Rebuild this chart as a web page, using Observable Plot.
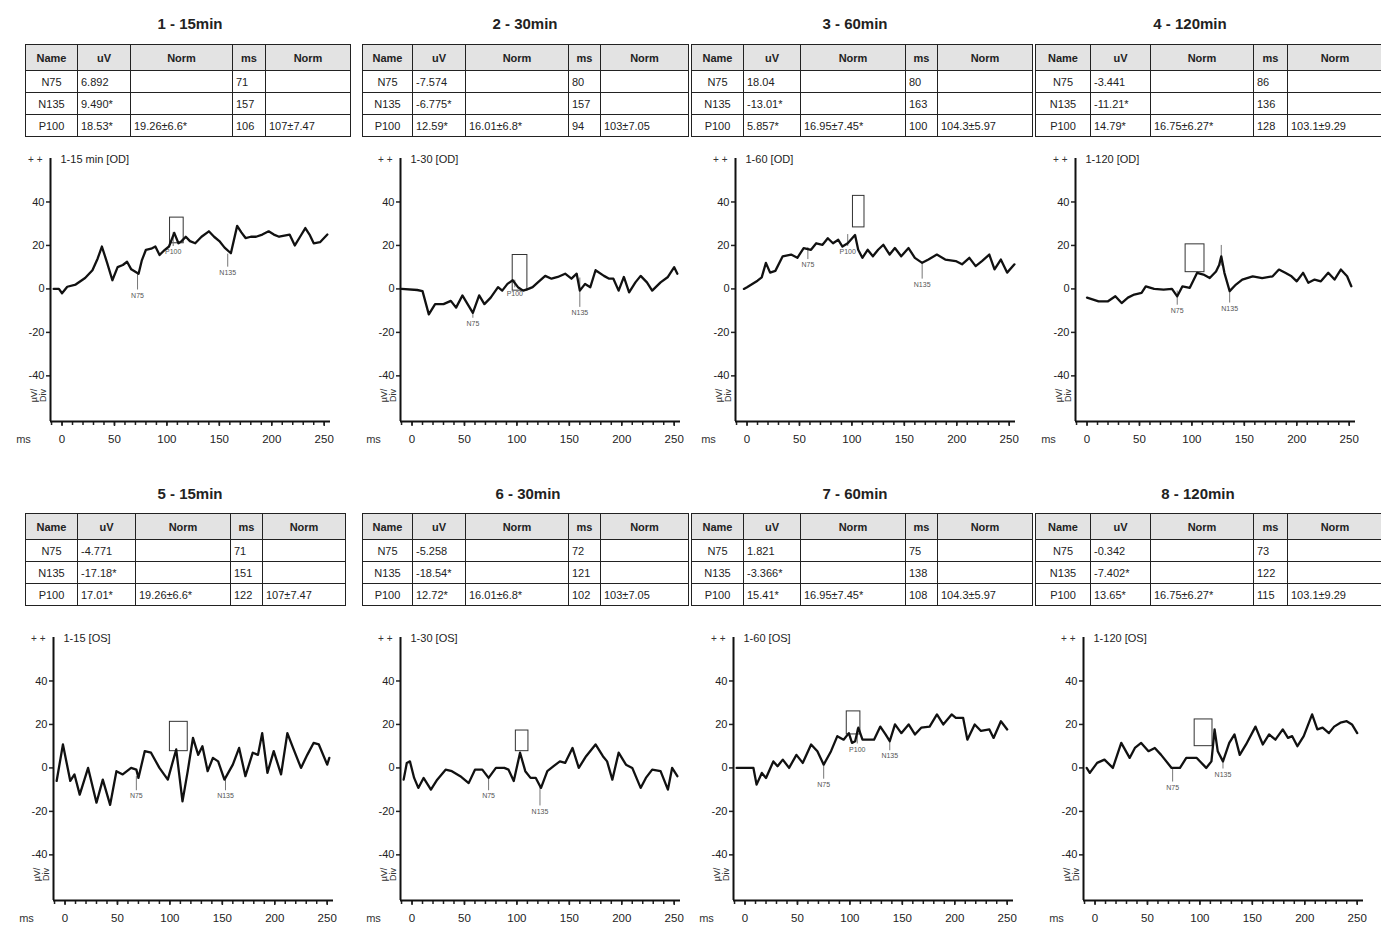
<!DOCTYPE html>
<html><head><meta charset="utf-8">
<script src="https://cdn.jsdelivr.net/npm/d3@7"></script>
<script src="https://cdn.jsdelivr.net/npm/@observablehq/plot@0.6"></script>
<style>
body{margin:0;background:#fff;font-family:"Liberation Sans",Arial,sans-serif;color:#222;}
#root{position:relative;width:1381px;height:929px;overflow:hidden;background:#fff;}
.title{position:absolute;width:220px;font-weight:bold;font-size:15px;line-height:18px;text-align:center;color:#222;}
table.vt{position:absolute;border-collapse:collapse;table-layout:fixed;font-size:11px;}
table.vt td,table.vt th{border:1.5px solid #222;padding:0 3px;height:21px;white-space:nowrap;overflow:hidden;text-align:left;}
table.vt th{background:#e3e3e3;height:25px;text-align:center;font-weight:bold;}
table.vt td.nm{text-align:center;}
.plot{position:absolute;}
</style></head>
<body><div id="root"></div>
<script>
// ---------- data ----------
const panelTitles = ["1 - 15min","2 - 30min","3 - 60min","4 - 120min","5 - 15min","6 - 30min","7 - 60min","8 - 120min"];
const traceLabels = ["1-15 min [OD]","1-30 [OD]","1-60 [OD]","1-120 [OD]","1-15 [OS]","1-30 [OS]","1-60 [OS]","1-120 [OS]"];
const tableHeader = ["Name","uV","Norm","ms","Norm"];
const peakNames = ["N75","N135","P100"];
const uVValues = [
  ["6.892","9.490*","18.53*"],
  ["-7.574","-6.775*","12.59*"],
  ["18.04","-13.01*","5.857*"],
  ["-3.441","-11.21*","14.79*"],
  ["-4.771","-17.18*","17.01*"],
  ["-5.258","-18.54*","12.72*"],
  ["1.821","-3.366*","15.41*"],
  ["-0.342","-7.402*","13.65*"]
];
const uVNorm = ["19.26±6.6*","16.01±6.8*","16.95±7.45*","16.75±6.27*","19.26±6.6*","16.01±6.8*","16.95±7.45*","16.75±6.27*"];
const msValues = [[71,157,106],[80,157,94],[80,163,100],[86,136,128],[71,151,122],[72,121,102],[75,138,108],[73,122,115]];
const msNorm = ["107±7.47","103±7.05","104.3±5.97","103.1±9.29","107±7.47","103±7.05","104.3±5.97","103.1±9.29"];

const xTicks = [0,50,100,150,200,250];
const xMinorTicks = [-10,0,10,20,30,40,50,60,70,80,90,100,110,120,130,140,150,160,170,180,190,200,210,220,230,240,250];
const yTicks = [-40,-20,0,20,40];

// waveforms [ms, uV]
const waveOD15 = [[-8,0],[-3,0],[0,-2],[5,1],[13,2],[22,5],[29,8.6],[34,14],[38,19.5],[43,12],[48,4],[53,10],[58,11],[62,12.5],[66,9],[73,7],[76,13],[80,18],[85,18.5],[89,19.5],[93,15.6],[98,18],[102,19.5],[107,25.8],[111,21],[114,22],[118,24],[122,22],[127,21],[133,24],[140,26.5],[145,24],[150,22],[155,19],[161,16.4],[167,29],[171,26],[175,23.4],[180,24],[185,24],[191,25],[197,26.5],[202,25],[207,24],[212,24.5],[217,25],[222,20],[227,24],[232,28],[236,25],[240,21],[246,21.5],[253,25]];
const waveOD30 = [[-10,0],[5,-0.5],[10,-1],[16,-11.7],[22,-7],[30,-7],[37,-5.5],[42,-8.6],[48,-3],[54,-7.8],[58,-11],[64,-3],[69,-7],[75,-4],[82,0.8],[86,-0.8],[91,2.3],[96,4],[101,0.8],[106,-0.8],[111,0],[115,0.8],[120,3],[127,6],[133,4.7],[139,5.5],[146,7],[152,4.7],[157,7],[160,-0.8],[165,2.3],[170,0.8],[175,8.6],[183,6],[188,4.7],[192,4.7],[197,-0.8],[202,5.5],[207,-1.6],[213,3],[218,6],[224,3],[229,-0.8],[237,3],[244,5.5],[250,10],[253,7]];
const waveOD60 = [[-3,0],[0,0.8],[10,3.8],[14,5.3],[18,12],[22,7.5],[27,8.3],[34,15],[42,15.8],[48,14.3],[54,18.8],[61,18],[66,21],[72,20.3],[77,23.3],[82,21],[87,22.6],[91,19.5],[96,21],[103,24.8],[106,18],[110,14.3],[115,18],[120,15],[125,18],[130,20.3],[136,15.8],[141,18.8],[147,15],[154,18.8],[160,14.3],[167,12],[173,13.5],[181,15.8],[189,13.5],[199,12.8],[205,11.3],[212,14.3],[218,10.5],[224,12.8],[231,15.8],[236,9],[242,13.5],[248,7.5],[255,11.3]];
const waveOD120 = [[0,-4],[11,-5.7],[20,-5.7],[27,-3.4],[33,-6.5],[39,-4],[45,-2.6],[52,-1.8],[56,1.2],[64,0],[73,-0.3],[81,0],[86,-3.4],[91,1.2],[98,0.5],[105,7.4],[111,6.6],[117,5],[123,8],[126,11],[128,15],[131,7.4],[136,-1],[142,2],[148,4.3],[158,5.8],[167,5],[177,5.8],[183,8.9],[189,7.4],[195,5.8],[200,3.5],[206,7.4],[211,2.8],[217,4.3],[223,3.5],[230,7.4],[236,4.3],[242,8.9],[248,5.8],[252,1.2]];
const waveOS15 = [[-8,-6],[-2,10.8],[5,-6],[9,-3],[14,-12.3],[22,0],[30,-16],[36,-5.4],[43,-17],[49,-1.5],[55,-3],[63,0],[68,-0.8],[70,-4.6],[76,7.7],[82,7],[90,0],[98,-5.4],[106,8.5],[112,-15.4],[117,-1.5],[122,13.8],[127,6],[131,10],[136,-1.5],[141,4.6],[146,3],[152,-5.4],[160,1.5],[166,9.2],[172,-3.8],[179,7],[184,6],[188,16],[193,-2.3],[199,7.7],[206,-3],[212,16],[218,8.5],[225,0],[231,6],[237,11.5],[242,10.8],[250,1.5],[252,4.6]];
const waveOS30 = [[-8,-5.4],[-5,2.3],[-2,3],[2,-4.6],[6,-9.2],[11,-4.6],[18,-10],[24,-5.4],[32,-0.8],[38,-1.5],[46,-3.8],[54,-7],[60,-0.8],[67,-0.8],[73,-4.6],[80,0],[88,0],[92,-0.8],[97,-6],[103,7],[108,-1.5],[113,-4.6],[118,-4.6],[123,-9.2],[129,-1.5],[135,0.8],[141,3],[146,2.3],[153,9.2],[159,0],[166,5.4],[175,10.8],[182,5.4],[186,3],[191,-5.4],[197,7],[204,1.5],[210,0],[218,-9.2],[223,-4.6],[229,-0.8],[237,-1.5],[244,-10],[248,0],[253,-3.8]];
const waveOS60 = [[-8,0],[8,0],[11,-7.7],[16,-2.3],[20,-4.6],[27,3],[31,0.8],[36,3.8],[42,0],[49,6],[55,2.3],[63,10.8],[69,7.7],[75,1.5],[82,7.7],[88,14.6],[94,13],[99,16],[102,11.5],[105,12.3],[108,18.5],[112,13],[123,13],[129,19],[134,15.4],[138,12.3],[143,20],[149,16],[156,20],[162,15.4],[168,18.5],[176,19],[183,24.6],[189,20],[197,24.6],[201,23],[208,23],[212,13],[219,20],[225,17],[233,17.7],[237,13.8],[244,21.5],[250,17.7]];
const waveOS120 = [[-8,0],[-5,-2.3],[2,2.3],[9,3.8],[17,0],[25,11.5],[33,4.6],[38,9.2],[44,11.5],[51,7.7],[57,9.2],[63,6],[73,0],[81,0],[87,4.6],[97,4.6],[106,0],[111,3],[114,17.7],[117,7.7],[122,3],[128,11.5],[133,15.4],[138,6],[144,10.8],[153,19],[160,10.8],[166,15.4],[172,13],[179,17.7],[184,13.8],[188,14.6],[193,10],[199,14.6],[207,24.6],[212,17.7],[217,18.5],[223,16],[228,19],[234,20.8],[240,21.5],[245,20],[250,16]];
const waves = [waveOD15,waveOD30,waveOD60,waveOD120,waveOS15,waveOS30,waveOS60,waveOS120];

// norm boxes [msLow, msHigh, uVLow, uVHigh]
const normBoxes = [[103,116,21,32.8],[96,110,-0.8,15.6],[101,112,28.3,42.8],[94,112,7.7,20.5],[100,117,7.7,21.2],[99,111,7.7,17.2],[97,110,15.4,26],[95,112,10,22.3]];

// peak markers [name, ms, labelUV, ruleTopUV]
const markersOD15 = [["N75",72,-3,7],["P100",106,17,26],["N135",158,7.5,16]];
const markersOD30 = [["N75",58,-16,-10],["P100",98,-2,4],["N135",160,-11,5]];
const markersOD60 = [["N75",58,11,19],["P100",96,17,25],["N135",167,2,12]];
const markersOD120 = [["N75",86,-10,-1],["",128,8,20],["N135",136,-9,-1]];
const markersOS15 = [["N75",68,-13,-4],["N135",153,-13,-5]];
const markersOS30 = [["N75",73,-13,-4],["N135",122,-20,-9]];
const markersOS60 = [["N75",75,-7.7,1],["P100",107,8.5,18],["N135",138,5.4,12]];
const markersOS120 = [["N75",74,-9,0],["N135",122,-3,3]];
const markers = [markersOD15,markersOD30,markersOD60,markersOD120,markersOS15,markersOS30,markersOS60,markersOS120];

// ---------- layout ----------
const layout = [
  {titleX:190, titleY:15,  tableX:25,   tableY:44,  cols:[52,53,102,33,85], axisX:50,   plotY:148},
  {titleX:525, titleY:15,  tableX:362,  tableY:44,  cols:[50,53,103,32,88], axisX:400,  plotY:148},
  {titleX:855, titleY:15,  tableX:691,  tableY:44,  cols:[52,57,105,32,95], axisX:735,  plotY:148},
  {titleX:1190,titleY:15,  tableX:1035, tableY:44,  cols:[55,60,103,34,95], axisX:1075, plotY:148},
  {titleX:190, titleY:485, tableX:25,   tableY:513, cols:[52,58,95,32,83],  axisX:53,   plotY:627},
  {titleX:528, titleY:485, tableX:362,  tableY:513, cols:[50,53,103,32,88], axisX:400,  plotY:627},
  {titleX:855, titleY:485, tableX:691,  tableY:513, cols:[52,57,105,32,95], axisX:733,  plotY:627},
  {titleX:1198,titleY:485, tableX:1035, tableY:513, cols:[55,60,103,34,95], axisX:1083, plotY:627}
];
const ML = 45;
const root = document.getElementById("root");
const font = '"Liberation Sans", Arial, sans-serif';

panelTitles.forEach((title, i) => {
  const L = layout[i];
  const t = document.createElement("div");
  t.className = "title";
  t.style.left = (L.titleX - 110) + "px";
  t.style.top = L.titleY + "px";
  t.textContent = title;
  root.appendChild(t);

  // table
  const tbl = document.createElement("table");
  tbl.className = "vt";
  tbl.style.left = L.tableX + "px";
  tbl.style.top = L.tableY + "px";
  tbl.style.width = d3.sum(L.cols) + "px";
  const cg = document.createElement("colgroup");
  L.cols.forEach(w => { const c = document.createElement("col"); c.style.width = w + "px"; cg.appendChild(c); });
  tbl.appendChild(cg);
  const hr = document.createElement("tr");
  tableHeader.forEach(h => { const th = document.createElement("th"); th.textContent = h; hr.appendChild(th); });
  tbl.appendChild(hr);
  peakNames.forEach((p, r) => {
    const tr = document.createElement("tr");
    const cells = [p, uVValues[i][r], r === 2 ? uVNorm[i] : "", String(msValues[i][r]), r === 2 ? msNorm[i] : ""];
    cells.forEach((c, k) => { const td = document.createElement("td"); td.textContent = c; if (k === 0) td.className = "nm"; tr.appendChild(td); });
    tbl.appendChild(tr);
  });
  root.appendChild(tbl);

  // plot
  const data = waves[i].map(([t, v]) => ({t, v}));
  const mk = markers[i].map(([name, t, lv, tv]) => ({name, t, lv, tv}));
  const box = normBoxes[i];
  const svg = Plot.plot({
    width: ML + 280 + 12, height: 303,
    marginLeft: ML, marginRight: 12, marginTop: 10, marginBottom: 30,
    x: {domain: [-11, 256]},
    y: {domain: [-61, 60]},
    style: {fontFamily: font, fontSize: "11px", color: "#222", background: "transparent", overflow: "visible"},
    marks: [
      Plot.axisX({ticks: xMinorTicks, tickSize: 4, tickFormat: () => "", label: null, strokeWidth: 1.5}),
      Plot.axisX({ticks: xTicks, tickSize: 5, tickPadding: 8, tickFormat: d => String(d), label: null, strokeWidth: 1.5, fontSize: 11.5}),
      Plot.axisY({ticks: yTicks, tickSize: 4, tickPadding: 2, tickFormat: d => String(d), label: null, strokeWidth: 1.5, fontSize: 11}),
      Plot.ruleX([-11], {stroke: "#111", strokeWidth: 2}),
      Plot.ruleY([-61], {stroke: "#111", strokeWidth: 2}),
      Plot.rect([box], {x1: d => d[0], x2: d => d[1], y1: d => d[2], y2: d => d[3], fill: "none", stroke: "#333", strokeWidth: 1}),
      Plot.ruleX(mk, {x: "t", y1: d => d.lv + 2.5, y2: "tv", stroke: "#777", strokeWidth: 1}),
      Plot.text(mk, {x: "t", y: "lv", text: "name", fontSize: 7, fill: "#555"}),
      Plot.line(data, {x: "t", y: "v", stroke: "#111", strokeWidth: 2.3, strokeLinejoin: "round"}),
      Plot.text([traceLabels[i]], {text: d => d, frameAnchor: "top-left", dx: 10, dy: -3, textAnchor: "start", lineAnchor: "top", fontSize: 11, fill: "#222"}),
      Plot.text(["+ +"], {text: d => d, frameAnchor: "top-left", dx: -8, dy: 1, textAnchor: "end", lineAnchor: "middle", fontSize: 10, fill: "#333"}),
      Plot.text(["ms"], {text: d => d, frameAnchor: "bottom-left", dx: -27, dy: 18, textAnchor: "middle", lineAnchor: "middle", fontSize: 11, fill: "#333"}),
      Plot.text(["µV/\nDiv"], {text: d => d, frameAnchor: "bottom-left", dx: -12, dy: -26, rotate: -90, textAnchor: "middle", lineAnchor: "middle", fontSize: 9, fill: "#333"})
    ]
  });
  svg.classList.add("plot");
  svg.style.position = "absolute";
  svg.style.left = (L.axisX - ML) + "px";
  svg.style.top = L.plotY + "px";
  root.appendChild(svg);
});
</script>
</body></html>
